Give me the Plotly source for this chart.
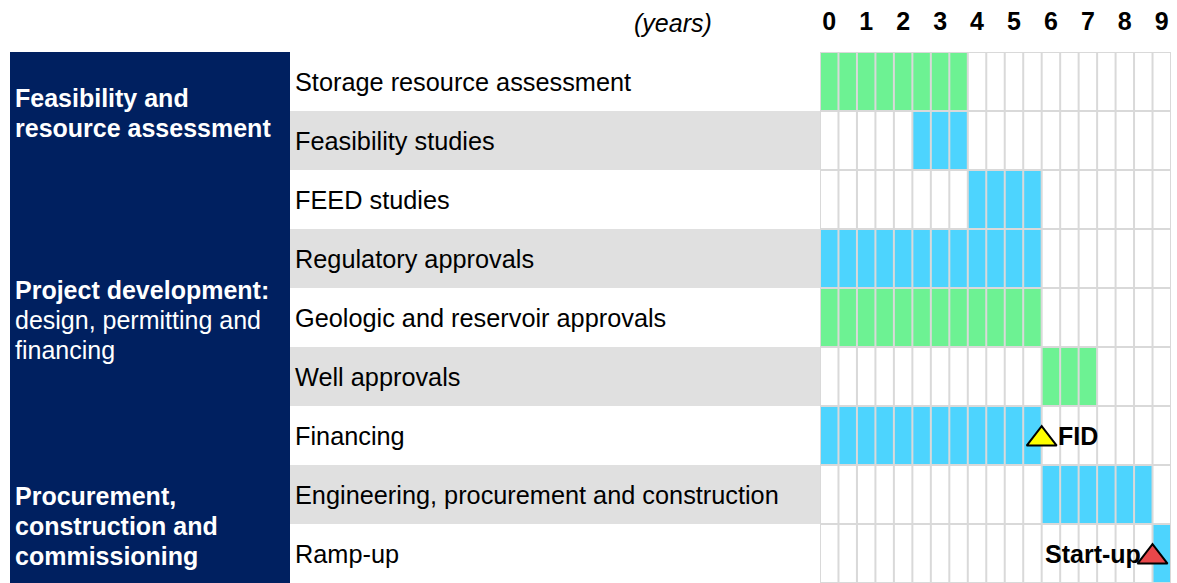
import plotly.graph_objects as go

# ---------------- data ----------------
tasks = [
    "Storage resource assessment",
    "Feasibility studies",
    "FEED studies",
    "Regulatory approvals",
    "Geologic and reservoir approvals",
    "Well approvals",
    "Financing",
    "Engineering, procurement and construction",
    "Ramp-up",
]
task_start = [0, 2.5, 4, 0, 0, 6, 0, 6, 9]
task_end = [4, 4, 6, 6, 6, 7.5, 6, 9, 9.5]
task_kind = ["green", "blue", "blue", "blue", "green", "green", "blue", "blue", "blue"]

years = list(range(10))
year_labels = [str(y) for y in years]

milestone_names = ["FID", "Start-up"]
milestone_task = [6, 8]
milestone_x = [6, 9]

phase_lines = [
    ("Feasibility and", True, 98),
    ("resource assessment", True, 128),
    ("Project development:", True, 290),
    ("design, permitting and", False, 320),
    ("financing", False, 350),
    ("Procurement,", True, 496),
    ("construction and", True, 526),
    ("commissioning", True, 556),
]

# ---------------- style ----------------
W, H = 1177, 583
FONT = "Liberation Sans, Arial, sans-serif"
FS = 25
FS_TASK = 25.3
GREEN = "#6DF293"
BLUE = "#4DD4FE"
NAVY = "#002060"
BAND = "#E0E0E0"
GRID = "#D9D9D9"
GRID_TOP = 52
GRID_X0, GRID_X1 = 820, 1171
TOTAL = 9.5
STEP = 0.5
MARKER_DY = 0.06  # visual centring of triangle glyph within its row


def px(x):
    return x / W


def py(y):
    return 1 - y / H


color_map = {"green": GREEN, "blue": BLUE}
n = len(tasks)

fig = go.Figure()

# bars
fig.add_trace(go.Bar(
    orientation="h",
    y=list(range(n)),
    x=[e - s for s, e in zip(task_start, task_end)],
    base=task_start,
    width=1.0,
    marker=dict(color=[color_map[k] for k in task_kind], line=dict(width=0)),
    hoverinfo="skip",
    showlegend=False,
))

# grid lines (cell borders)
gx, gy = [], []
k = 0
while k * STEP <= TOTAL + 1e-9:
    gx += [k * STEP, k * STEP, None]
    gy += [-0.5, n - 0.5, None]
    k += 1
for i in range(n + 1):
    gx += [0, TOTAL, None]
    gy += [i - 0.5, i - 0.5, None]
fig.add_trace(go.Scatter(
    x=gx, y=gy, mode="lines",
    line=dict(color=GRID, width=2),
    cliponaxis=False, hoverinfo="skip", showlegend=False,
))

# milestones
fig.add_trace(go.Scatter(
    x=milestone_x, y=[t + MARKER_DY for t in milestone_task], mode="markers",
    marker=dict(symbol="triangle-up", size=26,
                color=["#FFFF00", "#E8474A"],
                line=dict(color="black", width=2)),
    cliponaxis=False, hoverinfo="skip", showlegend=False,
))

shapes = []
annotations = []

# navy phase panel
shapes.append(dict(type="rect", xref="paper", yref="paper",
                   x0=px(10), x1=px(290), y0=0, y1=py(GRID_TOP),
                   fillcolor=NAVY, line=dict(width=0), layer="below"))

# alternating grey bands in label column
for i in range(n):
    if i % 2 == 1:
        shapes.append(dict(type="rect", xref="paper", yref="y",
                           x0=px(290), x1=px(GRID_X0), y0=i - 0.5, y1=i + 0.5,
                           fillcolor=BAND, line=dict(width=0), layer="below"))

# task labels
for i, t in enumerate(tasks):
    annotations.append(dict(xref="paper", yref="y", x=px(293), y=i,
                            text=t, showarrow=False, xanchor="left", yanchor="middle",
                            font=dict(family=FONT, size=FS_TASK, color="black")))

# phase labels
for txt, bold, yc in phase_lines:
    annotations.append(dict(xref="paper", yref="paper", x=px(13), y=py(yc),
                            text=txt, showarrow=False, xanchor="left", yanchor="middle",
                            font=dict(family=FONT, size=FS, color="white",
                                      weight="bold" if bold else "normal")))

# years label
annotations.append(dict(xref="paper", yref="paper", x=px(714), y=py(23),
                        text="<i>(years)</i>", showarrow=False, xanchor="right",
                        yanchor="middle",
                        font=dict(family=FONT, size=FS, color="black")))

# milestone labels
annotations.append(dict(xref="x", yref="y", x=milestone_x[0], y=milestone_task[0],
                        text=milestone_names[0], showarrow=False, xanchor="left",
                        yanchor="middle", xshift=14,
                        font=dict(family=FONT, size=FS, color="black", weight="bold")))
annotations.append(dict(xref="x", yref="y", x=milestone_x[1], y=milestone_task[1],
                        text=milestone_names[1], showarrow=False, xanchor="right",
                        yanchor="middle", xshift=-10,
                        font=dict(family=FONT, size=FS, color="black", weight="bold")))

fig.update_layout(
    width=W, height=H,
    margin=dict(l=0, r=0, t=0, b=0),
    paper_bgcolor="white", plot_bgcolor="white",
    showlegend=False,
    bargap=0,
    shapes=shapes,
    annotations=annotations,
    xaxis=dict(domain=[px(GRID_X0), px(GRID_X1)], range=[0, TOTAL],
               side="top", showgrid=False, zeroline=False, showline=False,
               tickmode="array", tickvals=[y + 0.25 for y in years],
               ticktext=year_labels, ticks="", ticklabelstandoff=16,
               tickfont=dict(family=FONT, size=FS, color="black", weight="bold"),
               fixedrange=True),
    yaxis=dict(domain=[0, py(GRID_TOP)], range=[n - 0.5, -0.5],
               showgrid=False, zeroline=False, showline=False,
               showticklabels=False, ticks="", fixedrange=True),
)

fig.write_html("out.html", config={"displayModeBar": False},
               post_script="document.body.style.margin='0';document.body.style.overflow='hidden';")
